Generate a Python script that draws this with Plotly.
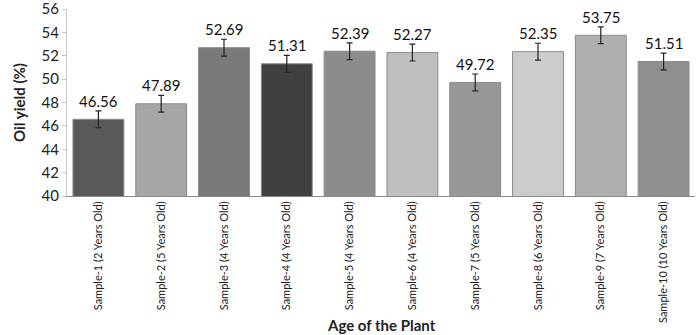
import plotly.graph_objects as go

categories = ["Sample-1 (2 Years Old)", "Sample-2 (5 Years Old)", "Sample-3 (4 Years Old)",
              "Sample-4 (4 Years Old)", "Sample-5 (4 Years Old)", "Sample-6 (4 Years Old)",
              "Sample-7 (5 Years Old)", "Sample-8 (6 Years Old)", "Sample-9 (7 Years Old)",
              "Sample-10 (10 Years Old)"]
values = [46.56, 47.89, 52.69, 51.31, 52.39, 52.27, 49.72, 52.35, 53.75, 51.51]
errors = [0.72, 0.72, 0.72, 0.72, 0.72, 0.72, 0.72, 0.72, 0.72, 0.72]
colors = ["#595959", "#a6a6a6", "#7a7a7a", "#404040", "#8c8c8c",
          "#bfbfbf", "#979797", "#cccccc", "#afafaf", "#8f8f8f"]
labels = [f"{v:.2f}" for v in values]

font = "Lato, Open Sans, sans-serif"

fig = go.Figure(go.Bar(
    x=categories, y=values, marker=dict(color=colors, line=dict(color="#8a8a8a", width=1)),
    error_y=dict(type="data", array=errors, color="#222222", thickness=1.2, width=3),
))
for c, v, e, t in zip(categories, values, errors, labels):
    fig.add_annotation(x=c, y=v + e, text=t, showarrow=False, yanchor="bottom", yshift=-1,
                       font=dict(family=font, size=15, color="#111111"))
fig.add_annotation(xref="paper", yref="paper", x=0.5, y=-0.69, yanchor="middle",
                   text="<b>Age of the Plant</b>", showarrow=False,
                   font=dict(family=font, size=15, color="#222222"))
fig.update_layout(
    width=699, height=335, margin=dict(l=67, r=4, t=9, b=139),
    plot_bgcolor="white", paper_bgcolor="white", bargap=0.19, showlegend=False,
    font=dict(family=font, color="#222222"),
)
fig.update_yaxes(range=[40, 56], dtick=2, showgrid=False, showline=True, linecolor="#c8c8c8",
                 ticks="outside", ticklen=4, tickcolor="#c8c8c8", ticklabeloverflow="allow",
                 tickfont=dict(size=15, family=font), automargin=False,
                 title=dict(text="<b>Oil yield (%)</b>", font=dict(size=15, family=font), standoff=12))
fig.update_xaxes(showline=True, linecolor="#8c8c8c", tickangle=-90, automargin=False,
                 tickfont=dict(size=11, family=font))
fig.write_html("out.html", config={"displayModeBar": False},
               post_script="document.body.style.margin='0';")
